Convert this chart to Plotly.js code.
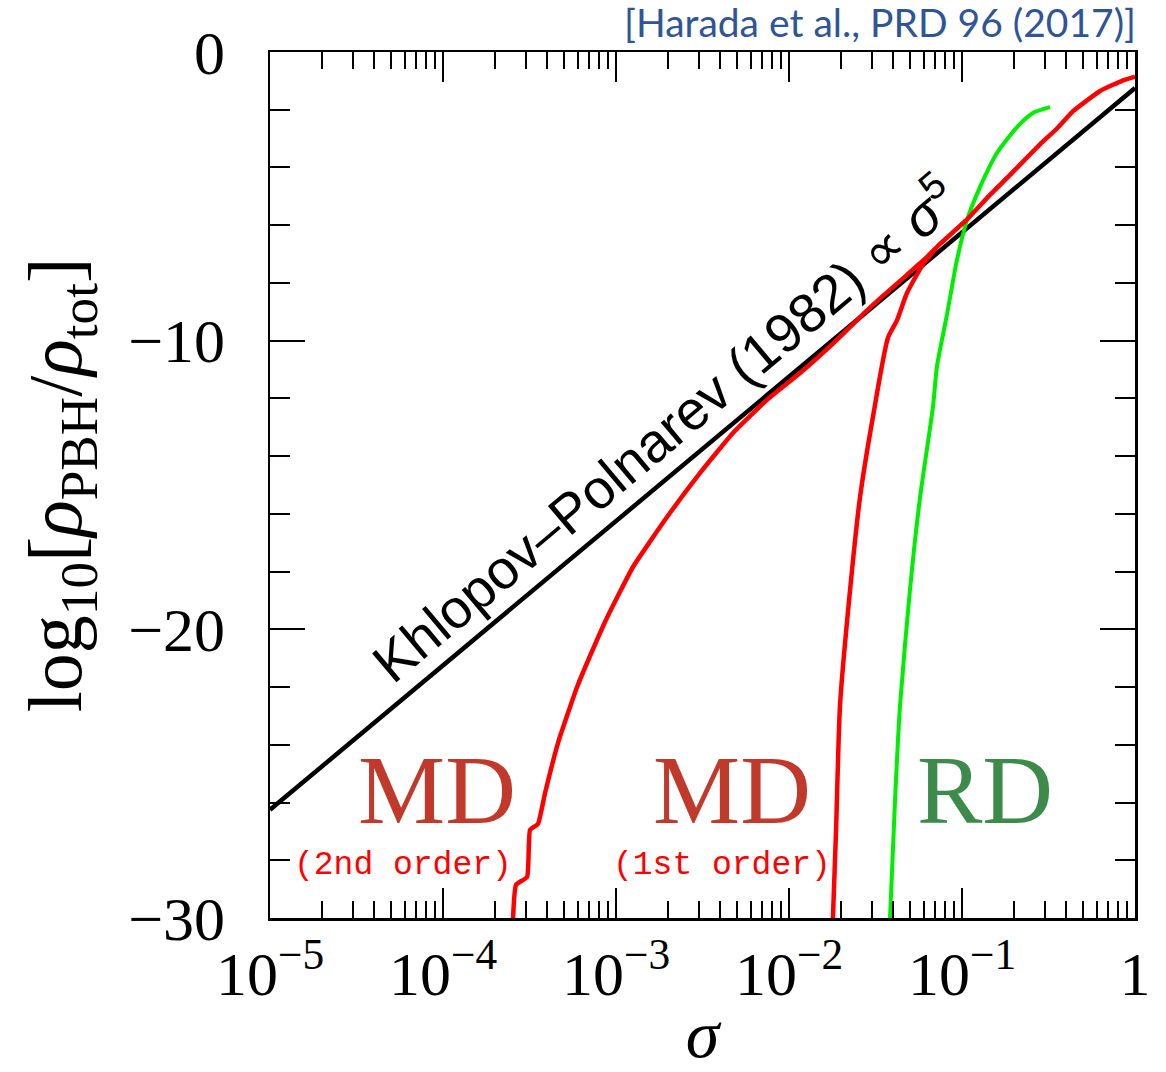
<!DOCTYPE html>
<html>
<head>
<meta charset="utf-8">
<script src="https://cdn.plot.ly/plotly-3.0.1.min.js"></script>
<style>html,body{margin:0;padding:0;background:#fff;}#chart{width:1166px;height:1072px;}</style>
</head>
<body>
<div id="chart"></div>
<script>
// ---- data (x given as log10 sigma, y as log10 rho_PBH/rho_tot) ----
const kpLogSigma = [-5, 0];
const kpLogRho = [-26.25, -1.25];

const md2LogSigma = [-3.595, -3.578, -3.514, -3.497, -3.451, -3.410, -3.335, -3.225, -3.110, -3.052, -2.902, -2.705, -2.514, -2.324, -2.127, -1.936, -1.746, -1.549, -1.457, -1.318, -1.202, -1.127, -0.971, -0.838, -0.705, -0.549, -0.451, -0.358, -0.202, -0.069, 0];
const md2LogRho = [-30.0, -28.85, -28.58, -26.95, -26.74, -25.67, -23.93, -22.0, -20.37, -19.6, -17.84, -16.11, -14.58, -13.20, -12.05, -11.12, -10.1, -8.95, -8.45, -7.72, -7.10, -6.65, -5.80, -4.95, -4.15, -3.20, -2.65, -2.05, -1.35, -0.98, -0.85];

const md1LogSigma = [-1.746, -1.728, -1.705, -1.647, -1.590, -1.514, -1.428, -1.376, -1.318, -1.225, -1.15];
const md1LogRho = [-30.0, -26.95, -22.62, -18.64, -15.45, -12.61, -9.9, -9.3, -8.35, -7.35, -6.80];

const rdLogSigma = [-1.416, -1.387, -1.358, -1.301, -1.243, -1.168, -1.145, -1.087, -1.029, -0.971, -0.896, -0.798, -0.682, -0.590, -0.491];
const rdLogRho = [-30.0, -25.9, -22.62, -18.64, -15.45, -12.30, -10.9, -9.1, -7.2, -5.82, -4.68, -3.50, -2.60, -2.11, -1.91];

const xTickVals = [1e-5, 1e-4, 1e-3, 1e-2, 1e-1, 1];
const xTickText = ['10<sup>−5</sup>', '10<sup>−4</sup>', '10<sup>−3</sup>', '10<sup>−2</sup>', '10<sup>−1</sup>', '1'];
const yTickVals = [0, -10, -20, -30];
const yTickText = ['0', '−10', '−20', '−30'];

const toSigma = a => a.map(v => Math.pow(10, v));

// minor tick positions on the log axis (2..9 x 10^d)
const xMinor = [];
for (let d = -5; d < 0; d++) for (let k = 2; k <= 9; k++) xMinor.push(k * Math.pow(10, d));

const traces = [
  {x: toSigma(kpLogSigma), y: kpLogRho, mode: 'lines', line: {color: '#000000', width: 4.5}, name: 'Khlopov–Polnarev'},
  {x: toSigma(md1LogSigma), y: md1LogRho, mode: 'lines', line: {color: '#ff0000', width: 4.5, shape: 'spline', smoothing: 0.6}, name: 'MD (1st order)'},
  {x: toSigma(rdLogSigma), y: rdLogRho, mode: 'lines', line: {color: '#00ee00', width: 4, shape: 'spline', smoothing: 0.6}, name: 'RD'},
  {x: toSigma(md2LogSigma), y: md2LogRho, mode: 'lines', line: {color: '#ff0000', width: 4.5, shape: 'spline', smoothing: 0.4}, name: 'MD (2nd order)'}
];

const serif = 'Liberation Serif, DejaVu Serif, serif';
const layout = {
  width: 1166, height: 1072,
  margin: {l: 270, r: 31, t: 52, b: 154},
  paper_bgcolor: '#ffffff', plot_bgcolor: '#ffffff',
  showlegend: false,
  xaxis: {
    type: 'log', range: [-5, 0],
    tickmode: 'array', tickvals: xTickVals, ticktext: xTickText,
    ticks: 'inside', ticklen: 30, tickwidth: 2, tickcolor: '#000',
    showline: true, linecolor: '#000', linewidth: 2.5, mirror: 'ticks',
    showgrid: false, zeroline: false,
    tickfont: {family: serif, size: 62, color: '#000'},
    ticklabelstandoff: 0,
    minor: {tickmode: 'array', tickvals: xMinor, ticks: 'inside', ticklen: 17, tickwidth: 2, tickcolor: '#000', showgrid: false},
    title: {text: '<i>σ</i>', font: {family: serif, size: 68, color: '#000'}, standoff: 22},
    automargin: false
  },
  yaxis: {
    range: [-30, 0],
    tickmode: 'array', tickvals: yTickVals, ticktext: yTickText,
    ticks: 'inside', ticklen: 35, tickwidth: 2, tickcolor: '#000',
    showline: true, linecolor: '#000', linewidth: 2.5, mirror: 'ticks',
    showgrid: false, zeroline: false,
    tickfont: {family: serif, size: 62, color: '#000'},
    ticklabelstandoff: 30,
    minor: {dtick: 2, ticks: 'inside', ticklen: 20, tickwidth: 2, tickcolor: '#000', showgrid: false},
    title: {text: 'log<sub>10</sub>[<i>ρ</i><sub>PBH</sub>/<i>ρ</i><sub>tot</sub>]', font: {family: serif, size: 76, color: '#000'}, standoff: 22},
    automargin: false
  },
  annotations: [
    {xref: 'paper', yref: 'paper', x: 0.455, y: 0.566, xanchor: 'center', yanchor: 'middle', text: 'Khlopov–Polnarev (1982) ∝ <i>σ</i><sup>5</sup>', showarrow: false, textangle: -40,
     font: {family: 'Liberation Sans, Arial, sans-serif', size: 55, color: '#000'}},
    {xref: 'paper', yref: 'paper', x: 0.193, y: 0.148, xanchor: 'center', yanchor: 'middle', text: 'MD', showarrow: false, font: {family: serif, size: 98, color: '#c0392b'}},
    {xref: 'paper', yref: 'paper', x: 0.534, y: 0.148, xanchor: 'center', yanchor: 'middle', text: 'MD', showarrow: false, font: {family: serif, size: 98, color: '#c0392b'}},
    {xref: 'paper', yref: 'paper', x: 0.827, y: 0.148, xanchor: 'center', yanchor: 'middle', text: 'RD', showarrow: false, font: {family: serif, size: 98, color: '#3d8b4a'}},
    {xref: 'paper', yref: 'paper', x: 0.154, y: 0.061, xanchor: 'center', yanchor: 'middle', text: '(2nd order)', showarrow: false, font: {family: 'Liberation Mono, DejaVu Sans Mono, monospace', size: 33, color: '#ff0000'}},
    {xref: 'paper', yref: 'paper', x: 0.523, y: 0.061, xanchor: 'center', yanchor: 'middle', text: '(1st order)', showarrow: false, font: {family: 'Liberation Mono, DejaVu Sans Mono, monospace', size: 33, color: '#ff0000'}},
    {xref: 'paper', yref: 'paper', x: 1.004, y: 1.035, xanchor: 'right', yanchor: 'middle', text: '[Harada et al., PRD 96 (2017)]', showarrow: false,
     font: {family: 'Lato, Open Sans, sans-serif', size: 39, color: '#2f5597'}}
  ]
};

Plotly.newPlot('chart', traces, layout, {displayModeBar: false, staticPlot: true});
</script>
</body>
</html>
